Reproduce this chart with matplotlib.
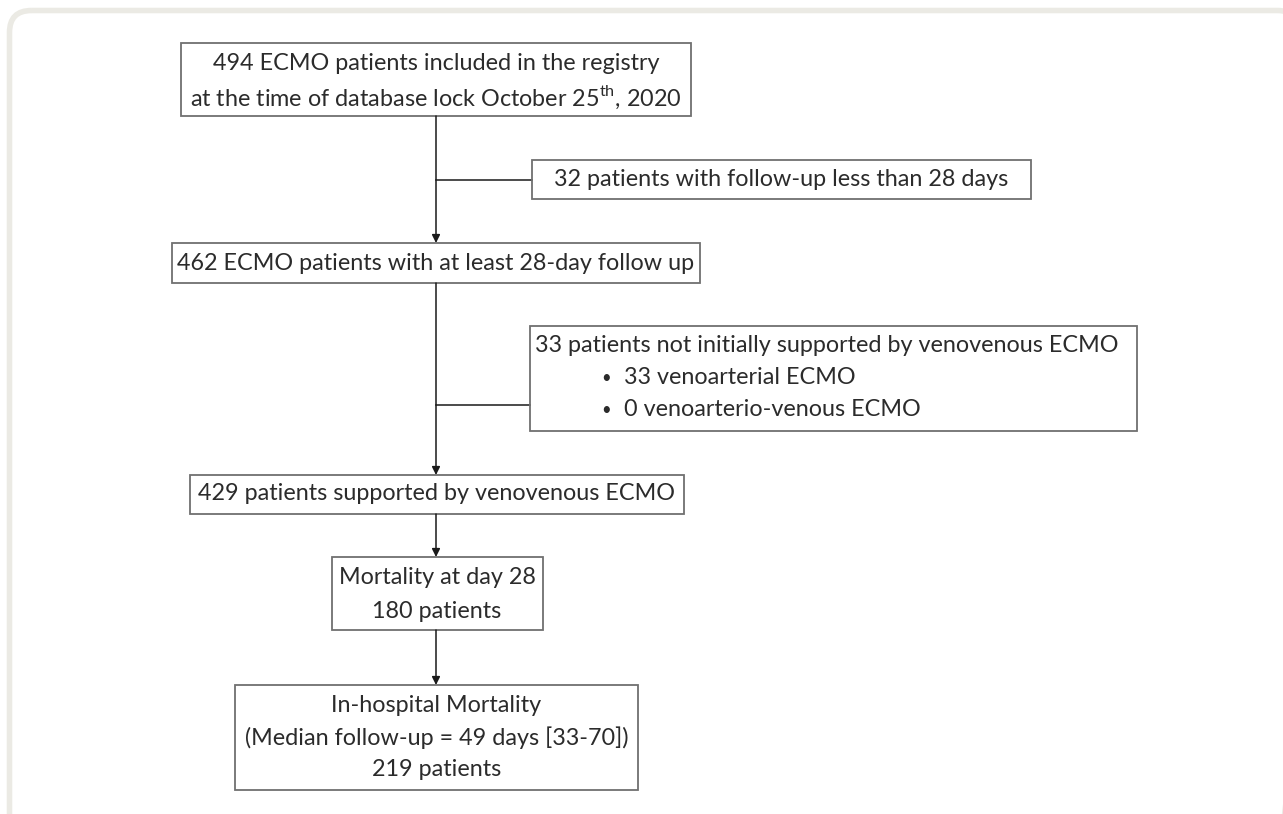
import matplotlib.pyplot as plt
from matplotlib.patches import FancyBboxPatch, Rectangle

# flowchart content
top_lines = ["494 ECMO patients included in the registry",
             r"at the time of database lock October 25$^{\mathregular{th}}$, 2020"]
excl1_lines = ["32 patients with follow-up less than 28 days"]
step2_lines = ["462 ECMO patients with at least 28-day follow up"]
excl2_head = "33 patients not initially supported by venovenous ECMO"
excl2_bullets = ["33 venoarterial ECMO", "0 venoarterio-venous ECMO"]
step3_lines = ["429 patients supported by venovenous ECMO"]
mort28_lines = ["Mortality at day 28", "180 patients"]
hosp_lines = ["In-hospital Mortality",
              "(Median follow-up = 49 days [33-70])",
              "219 patients"]

TEXT = "#2b2b2b"
EDGE = "#707070"
FS = 16.8
plt.rcParams["font.family"] = ["Lato", "DejaVu Sans"]


def box(ax, x0, y0, x1, y1):
    ax.add_patch(Rectangle((x0, y0), x1 - x0, y1 - y0, fill=False,
                           edgecolor=EDGE, lw=1.3, zorder=2))


def centered(ax, xc, ys, lines):
    for y, s in zip(ys, lines):
        ax.text(xc, y, s, ha="center", va="center", fontsize=FS, color=TEXT)


def arrow(ax, x, y0, y1):
    ax.annotate("", xy=(x, y1), xytext=(x, y0),
                arrowprops=dict(arrowstyle="-|>", color="#1a1a1a", lw=1.1,
                                mutation_scale=12, shrinkA=0, shrinkB=0))


fig = plt.figure(figsize=(12.83, 8.14), dpi=100)
ax = fig.add_axes([0, 0, 1, 1])
ax.set_xlim(0, 1283)
ax.set_ylim(814, 0)
ax.axis("off")

# outer rounded frame (cut by the image edge on the right and bottom)
ax.add_patch(FancyBboxPatch((9.5, 10.5), 1290, 830,
                            boxstyle="round,pad=0,rounding_size=22",
                            fill=False, edgecolor="#ebeae4", lw=4))

main_x = 436

box(ax, 181, 43, 691, 116)
centered(ax, main_x, [63, 97], top_lines)

arrow(ax, main_x, 116, 243)
ax.plot([main_x, 532], [180, 180], color="#1a1a1a", lw=1.1)
box(ax, 532, 160, 1031, 199)
centered(ax, 781, [180], excl1_lines)

box(ax, 172, 243, 700, 283)
centered(ax, main_x, [263], step2_lines)

arrow(ax, main_x, 283, 475)
ax.plot([main_x, 530], [405, 405], color="#1a1a1a", lw=1.1)
box(ax, 530, 326, 1137, 431)
ax.text(535, 346, excl2_head, ha="left", va="center", fontsize=FS, color=TEXT)
for y, s in zip([378, 410], excl2_bullets):
    ax.text(601, y, "\u2022", ha="left", va="center", fontsize=12, color=TEXT)
    ax.text(624, y, s, ha="left", va="center", fontsize=FS, color=TEXT)

box(ax, 190, 475, 684, 514)
centered(ax, 437, [494], step3_lines)

arrow(ax, main_x, 514, 557)
box(ax, 332, 557, 543, 630)
centered(ax, 437, [578, 611], mort28_lines)

arrow(ax, main_x, 630, 685)
box(ax, 235, 685, 638, 790)
centered(ax, 436.5, [705, 738, 770], hosp_lines)

fig.savefig("out.png", dpi=100, facecolor="white")
